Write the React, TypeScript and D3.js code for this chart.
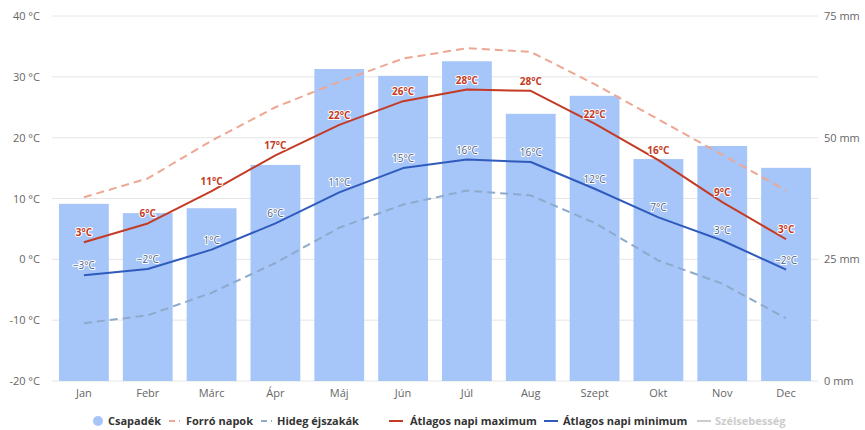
import React from "react";
import * as d3 from "d3";

const months = ["Jan", "Febr", "Márc", "Ápr", "Máj", "Jún", "Júl", "Aug", "Szept", "Okt", "Nov", "Dec"];
const precipitation = [36.4, 34.5, 35.5, 44.4, 64.1, 62.7, 65.7, 54.9, 58.6, 45.6, 48.3, 43.8];
const hotDays = [10.2, 13.3, 19.5, 25, 29.2, 33, 34.7, 34.1, 28.8, 23, 17.2, 11.3];
const coldNights = [-10.5, -9.2, -5.5, -0.6, 5.2, 9, 11.3, 10.5, 6, -0.2, -4, -9.7];
const maxTemp = [2.8, 5.9, 11.2, 17.1, 22.1, 26, 27.9, 27.7, 22.3, 16.3, 9.4, 3.3];
const minTemp = [-2.6, -1.6, 1.6, 5.9, 11, 15, 16.4, 16, 11.6, 6.9, 3.1, -1.7];
const maxLabels = ["3°C", "6°C", "11°C", "17°C", "22°C", "26°C", "28°C", "28°C", "22°C", "16°C", "9°C", "3°C"];
const minLabels = ["−3°C", "−2°C", "1°C", "6°C", "11°C", "15°C", "16°C", "16°C", "12°C", "7°C", "3°C", "−2°C"];
const tempTicks = [-20, -10, 0, 10, 20, 30, 40];
const mmTicks = [0, 25, 50, 75];

const W = 865, H = 430;
const L = 52, R = 818, T = 16, B = 381;
const FONT = "'Open Sans', 'DejaVu Sans', sans-serif";

const C = {
  bar: "#a6c5f9",
  max: "#c43b25",
  min: "#2f5bbd",
  hot: "#eda793",
  cold: "#8eaacb",
  grid: "#e6e6e6",
  axis: "#666",
};

export default function App() {
  const x = d3.scaleBand<string>().domain(months).range([L, R]).paddingInner(0.22).paddingOuter(0.11);
  const cx = (m: string) => (x(m) as number) + x.bandwidth() / 2;
  const yT = d3.scaleLinear().domain([-20, 40]).range([B, T]);
  const yM = d3.scaleLinear().domain([0, 75]).range([B, T]);
  const line = (vals: number[]) =>
    d3.line<number>().x((_, i) => cx(months[i])).y((v) => yT(v)).curve(d3.curveLinear)(vals) as string;

  const legendY = 422;
  const legend = [
    { type: "dot", color: C.bar, label: "Csapadék", x: 98, tx: 108, text: "#333" },
    { type: "line", color: C.hot, dash: "6,4,1,20", label: "Forró napok", x: 169, tx: 186, text: "#333" },
    { type: "line", color: C.cold, dash: "6,4,1,20", label: "Hideg éjszakák", x: 261, tx: 277, text: "#333" },
    { type: "line", color: C.max, label: "Átlagos napi maximum", x: 389, tx: 410, text: "#333" },
    { type: "line", color: C.min, label: "Átlagos napi minimum", x: 544, tx: 563, text: "#333" },
    { type: "line", color: "#cccccc", label: "Szélsebesség", x: 697, tx: 715, text: "#cccccc" },
  ];

  return (
    <svg width={W} height={H} style={{ position: "absolute", left: 0, top: 0, background: "#fff" }} fontFamily={FONT}>
      {tempTicks.map((t) => (
        <line key={"g" + t} x1={L} x2={R} y1={yT(t)} y2={yT(t)} stroke={C.grid} strokeWidth={1} />
      ))}
      {tempTicks.map((t) => (
        <text key={"lt" + t} x={40} y={yT(t) + 4} textAnchor="end" fontSize={11} fill={C.axis}>
          {`${t} °C`}
        </text>
      ))}
      {mmTicks.map((t) => (
        <text key={"rt" + t} x={824} y={yM(t) + 4} textAnchor="start" fontSize={11} fill={C.axis}>
          {`${t} mm`}
        </text>
      ))}
      {precipitation.map((v, i) => (
        <rect key={"b" + i} x={x(months[i])} y={yM(v)} width={x.bandwidth()} height={yM(0) - yM(v)} fill={C.bar} />
      ))}
      {months.map((m) => (
        <text key={"xl" + m} x={cx(m)} y={397} textAnchor="middle" fontSize={11} fill={C.axis}>
          {m}
        </text>
      ))}
      <path d={line(hotDays)} fill="none" stroke={C.hot} strokeWidth={2} strokeDasharray="8,5" strokeLinejoin="round" />
      <path d={line(coldNights)} fill="none" stroke={C.cold} strokeWidth={2} strokeDasharray="8,5" strokeLinejoin="round" />
      <path d={line(maxTemp)} fill="none" stroke={C.max} strokeWidth={2} strokeLinejoin="round" />
      <path d={line(minTemp)} fill="none" stroke={C.min} strokeWidth={2} strokeLinejoin="round" />
      {maxTemp.map((v, i) => (
        <text key={"ml" + i} x={cx(months[i])} y={yT(v) - 6} textAnchor="middle" fontSize={10} fontWeight="bold"
          fill={C.max} stroke="#fff" strokeWidth={2} paintOrder="stroke" strokeLinejoin="round">
          {maxLabels[i]}
        </text>
      ))}
      {minTemp.map((v, i) => (
        <text key={"nl" + i} x={cx(months[i])} y={yT(v) - 6} textAnchor="middle" fontSize={10}
          fill="#4a5f86" stroke="#fff" strokeWidth={2} paintOrder="stroke" strokeLinejoin="round">
          {minLabels[i]}
        </text>
      ))}
      {legend.map((l) => (
        <g key={l.label}>
          {l.type === "dot" ? (
            <circle cx={l.x} cy={legendY - 1} r={5} fill={l.color} />
          ) : (
            <line x1={l.x} x2={l.x + 14} y1={legendY - 1} y2={legendY - 1} stroke={l.color} strokeWidth={2}
              strokeDasharray={l.dash} />
          )}
          <text x={l.tx} y={legendY + 3} fontSize={11} fontWeight="bold" fill={l.text}>
            {l.label}
          </text>
        </g>
      ))}
    </svg>
  );
}
